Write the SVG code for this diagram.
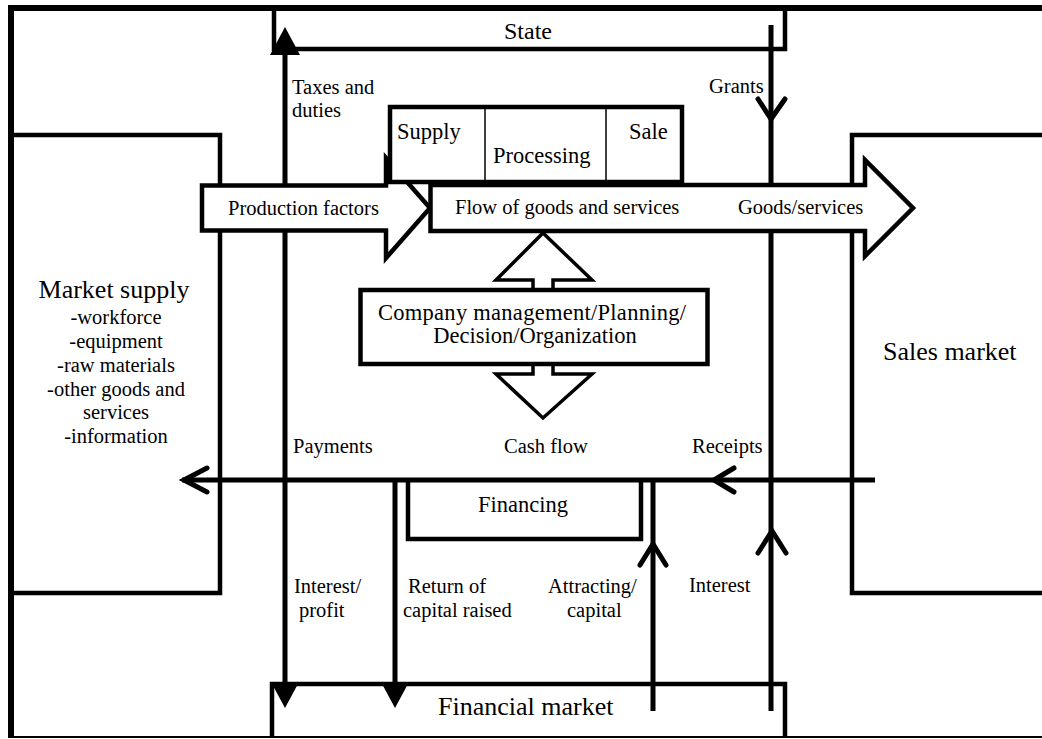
<svg xmlns="http://www.w3.org/2000/svg" width="1042" height="739" viewBox="0 0 1042 739" font-family="'Liberation Serif', 'Times New Roman', 'DejaVu Serif', serif">
<style>
.l{font-size:20.5px}
.b{font-size:22.5px}
.t{font-size:26px}
.ln{stroke:#000;stroke-width:5;fill:none;stroke-linecap:butt}
.bx{stroke:#000;stroke-width:4.5;fill:none}
.wb{stroke:#000;stroke-width:4.5;fill:#fff;stroke-linejoin:miter}
.hd{fill:#000;stroke:none}
.v{stroke:#000;stroke-width:5;fill:none;stroke-linecap:round;stroke-linejoin:miter}
.c{text-anchor:middle}
</style>
<rect width="1042" height="739" fill="#fff"/>
<g id="frame">
<line x1="8" y1="8" x2="1042" y2="8" stroke="#000" stroke-width="6"/>
<line x1="11" y1="5" x2="11" y2="738" stroke="#000" stroke-width="6"/>
<line x1="8" y1="737" x2="1042" y2="737" stroke="#000" stroke-width="2"/>
</g>
<g id="state">
<path class="bx" d="M274,8 V49 H785 V8"/>
<text class="c" x="528" y="39" font-family="Liberation Serif, serif" style="font-size:24px">State</text>
</g>
<g id="market-supply">
<path class="bx" d="M11,135 H220 V593 H11"/>
<text class="c t" x="114" y="298">Market supply</text>
<text class="c l" x="116" y="324">-workforce</text>
<text class="c l" x="116" y="348">-equipment</text>
<text class="c l" x="116" y="372">-raw materials</text>
<text class="c l" x="116" y="396">-other goods and</text>
<text class="c l" x="116" y="419">services</text>
<text class="c l" x="116" y="443">-information</text>
</g>
<g id="sales-market">
<path class="bx" d="M1042,135 H852 V593 H1042"/>
<text x="883" y="360" class="t">Sales market</text>
</g>
<g id="financial-market">
<path class="bx" d="M272,737 V684 H785 V737"/>
<text x="438" y="715" class="t">Financial market</text>
</g>
<g id="financing">
<path class="bx" d="M408,482 V539 H641 V482"/>
<text x="478" y="512" class="b">Financing</text>
</g>
<g id="connectors">
<line class="ln" x1="285" y1="50" x2="285" y2="688"/>
<polygon class="hd" points="285,27 300,55 270,55"/>
<polygon class="hd" points="285,708 271,682 299,682"/>
<line class="ln" x1="771" y1="25" x2="771" y2="711"/>
<polyline class="v" points="758,99 771,119 785,99"/>
<polyline class="v" points="758,553 772,531 786,553"/>
<line class="ln" x1="395" y1="480" x2="395" y2="688"/>
<polygon class="hd" points="395,708 381,682 409,682"/>
<line class="ln" x1="653" y1="711" x2="653" y2="480"/>
<polyline class="v" points="640,565 653,544 666,565"/>
<line class="ln" x1="182" y1="480" x2="875" y2="480"/>
<polyline class="v" points="207,468 184,480 207,492"/>
<polyline class="v" points="734,468 714,480 734,492"/>
</g>
<g id="production-factors">
<polygon class="wb" points="202,185.5 386,185.5 386,158 430,208 386,258 386,230.5 202,230.5"/>
<text x="228" y="215" class="l">Production factors</text>
</g>
<g id="supply-processing-sale">
<rect class="wb" x="390" y="107" width="292" height="75"/>
<line x1="485" y1="109" x2="485" y2="180" stroke="#000" stroke-width="1.5"/>
<line x1="606" y1="109" x2="606" y2="180" stroke="#000" stroke-width="1.5"/>
<text x="397" y="139" class="b">Supply</text>
<text x="493" y="163" class="b">Processing</text>
<text x="629" y="139" class="b">Sale</text>
</g>
<g id="flow-of-goods">
<polygon class="wb" points="430.5,185 865,185 865,160 913,208 865,256 865,231 430.5,231"/>
<text x="455" y="214" class="l">Flow of goods and services</text>
<text x="738" y="214" class="l">Goods/services</text>
</g>
<g id="management-arrows">
<polygon class="wb" style="stroke-width:3.5" points="533,290 533,280 496,280 543,233 592,280 553,280 553,290"/>
<polygon class="wb" style="stroke-width:3.5" points="533,364 533,374 496,374 543,418 592,374 553,374 553,364"/>
</g>
<g id="company-management">
<rect class="wb" x="360.5" y="290" width="347" height="74"/>
<text x="378" y="320" class="b" textLength="308" lengthAdjust="spacing">Company management/Planning/</text>
<text class="c b" x="535" y="343">Decision/Organization</text>
</g>
<g id="labels">
<text x="292" y="94" class="l">Taxes and</text>
<text x="292" y="117" class="l">duties</text>
<text x="709" y="93" class="l">Grants</text>
<text x="293" y="453" class="l">Payments</text>
<text x="504" y="453" class="l">Cash flow</text>
<text x="692" y="453" class="l">Receipts</text>
<text x="294" y="593" class="l">Interest/</text>
<text x="299" y="617" class="l">profit</text>
<text x="408" y="593" class="l">Return of</text>
<text x="403" y="617" class="l">capital raised</text>
<text x="548" y="593" class="l">Attracting/</text>
<text x="567" y="617" class="l">capital</text>
<text x="689" y="592" class="l">Interest</text>
</g>
</svg>
